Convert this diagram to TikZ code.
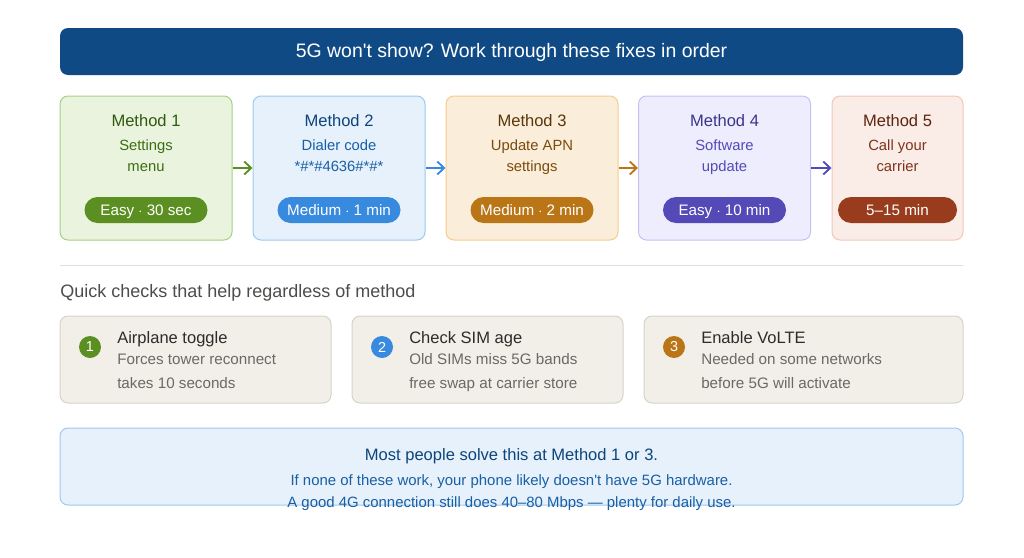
\documentclass[tikz,border=0pt]{standalone}
\usepackage{fontspec}
\setmainfont{Liberation Sans}
\usetikzlibrary{arrows.meta,positioning}
\definecolor{titlebg}{HTML}{0F4A85}
\definecolor{grnfill}{HTML}{EAF3DE}\definecolor{grnline}{HTML}{A8CF82}
\definecolor{grndark}{HTML}{2F5A0D}\definecolor{grntext}{HTML}{3B6D11}\definecolor{grnpill}{HTML}{5B8F21}
\definecolor{blufill}{HTML}{E6F1FB}\definecolor{bluline}{HTML}{9FC8EF}
\definecolor{bludark}{HTML}{0C447C}\definecolor{blutext}{HTML}{185FA5}\definecolor{blupill}{HTML}{378ADD}
\definecolor{orgfill}{HTML}{FAEEDA}\definecolor{orgline}{HTML}{F5CD88}
\definecolor{orgdark}{HTML}{5A3508}\definecolor{orgtext}{HTML}{7D4B0C}\definecolor{orgpill}{HTML}{BA7517}
\definecolor{purfill}{HTML}{EEEDFE}\definecolor{purline}{HTML}{C6C1F3}
\definecolor{purdark}{HTML}{3C3489}\definecolor{purtext}{HTML}{534AB7}\definecolor{purpill}{HTML}{534AB7}
\definecolor{redfill}{HTML}{FAECE7}\definecolor{redline}{HTML}{F3C7B7}
\definecolor{reddark}{HTML}{5E240F}\definecolor{redtext}{HTML}{80331A}\definecolor{redpill}{HTML}{993C1D}
\definecolor{chkfill}{HTML}{F1EFE8}\definecolor{chkline}{HTML}{D6D3CA}
\definecolor{chkdark}{HTML}{2C2C2A}\definecolor{chktext}{HTML}{6A6964}

\begin{document}
\begin{tikzpicture}[x=0.75pt, y=-0.75pt,
  method/.style={draw, line width=0.75pt, rounded corners=6pt, minimum height=108pt, inner sep=0pt},
  pill/.style={rounded corners=9.75pt, minimum height=19.5pt, minimum width=92.25pt, inner sep=0pt,
    fill=#1},
  pilltext/.style={anchor=base, inner sep=0pt, text=white, font=\fontsize{11.4}{13}\selectfont},
  mtitle/.style={anchor=base, font=\fontsize{12.4}{14}\selectfont, inner sep=0pt},
  msub/.style={anchor=base, font=\fontsize{11.1}{13}\selectfont, inner sep=0pt},
  arr/.style={-{Straight Barb[length=1.8mm, width=3.4mm]}, line width=1.4pt},
  check/.style={draw=chkline, fill=chkfill, line width=0.75pt, rounded corners=6pt,
    minimum height=65.25pt, inner sep=0pt},
  num/.style={circle, minimum size=16.5pt, inner sep=0pt, text=white, font=\fontsize{10.8}{13}\selectfont},
  ctitle/.style={font=\fontsize{12.4}{14}\selectfont, text=chkdark, inner sep=0pt, anchor=base west},
  csub/.style={font=\fontsize{11.4}{13}\selectfont, text=chktext, inner sep=0pt, anchor=base west}]

\useasboundingbox (0,0) rectangle (1024,557);

% header bar
\node[fill=titlebg, rounded corners=6pt, minimum width=677.25pt, minimum height=35.25pt, inner sep=0pt]
  (head) at (511.5,51.5) {};
\node[anchor=base, inner sep=0pt, text=white, font=\fontsize{14.6}{16}\selectfont] (headtxt) at (511.5,57.5)
  {5G won\textquotesingle t show? Work through these fixes in order};

% method cards
\node[method, draw=grnline, fill=grnfill, minimum width=129pt] (m1) at (146,168) {};
\node[method, draw=bluline, fill=blufill, minimum width=129pt] (m2) at (339,168) {};
\node[method, draw=orgline, fill=orgfill, minimum width=129pt] (m3) at (532,168) {};
\node[method, draw=purline, fill=purfill, minimum width=129pt] (m4) at (724.5,168) {};
\node[method, draw=redline, fill=redfill, minimum width=98.25pt] (m5) at (897.5,168) {};

\node[mtitle, text=grndark] (m1t) at (146,126.5) {Method 1};
\node[msub, text=grntext] (m1a) at (146,150.5) {Settings};
\node[msub, text=grntext] (m1b) at (146,171.5) {menu};
\node[pill=grnpill] (m1p) at (146,210) {};
\node[pilltext] (m1pt) at (146,215) {Easy $\cdot$ 30 sec};

\node[mtitle, text=bludark] (m2t) at (339,126.5) {Method 2};
\node[msub, text=blutext] (m2a) at (339,150.5) {Dialer code};
\node[msub, text=blutext] (m2b) at (339,171.5) {*\#*\#4636\#*\#*};
\node[pill=blupill] (m2p) at (339,210) {};
\node[pilltext] (m2pt) at (339,215) {Medium $\cdot$ 1 min};

\node[mtitle, text=orgdark] (m3t) at (532,126.5) {Method 3};
\node[msub, text=orgtext] (m3a) at (532,150.5) {Update APN};
\node[msub, text=orgtext] (m3b) at (532,171.5) {settings};
\node[pill=orgpill] (m3p) at (532,210) {};
\node[pilltext] (m3pt) at (532,215) {Medium $\cdot$ 2 min};

\node[mtitle, text=purdark] (m4t) at (724.5,126.5) {Method 4};
\node[msub, text=purtext] (m4a) at (724.5,150.5) {Software};
\node[msub, text=purtext] (m4b) at (724.5,171.5) {update};
\node[pill=purpill] (m4p) at (724.5,210) {};
\node[pilltext] (m4pt) at (724.5,215) {Easy $\cdot$ 10 min};

\node[mtitle, text=reddark] (m5t) at (897.5,126.5) {Method 5};
\node[msub, text=redtext] (m5a) at (897.5,150.5) {Call your};
\node[msub, text=redtext] (m5b) at (897.5,171.5) {carrier};
\node[pill=redpill, minimum width=89.25pt] (m5p) at (897.5,210) {};
\node[pilltext] (m5pt) at (897.5,215) {5--15 min};

\draw[arr, grnpill] (m1.east) -- (m2.west);
\draw[arr, blupill] (m2.east) -- (m3.west);
\draw[arr, orgpill] (m3.east) -- (m4.west);
\draw[arr, purpill] (m4.east) -- (m5.west);

% divider
\coordinate (divl) at (60,265);
\coordinate (divr) at (963,265);
\draw[gray!25, line width=0.75pt] (divl) -- (divr);

\node[anchor=base west, inner sep=0pt, text=chkdark!85, font=\fontsize{13.5}{15}\selectfont] (qtitle) at (60,297)
  {Quick checks that help regardless of method};

% quick checks
\node[check, minimum width=203.25pt] (c1) at (195.5,359.5) {};
\node[check, minimum width=203.25pt] (c2) at (487.5,359.5) {};
\node[check, minimum width=239.25pt] (c3) at (803.5,359.5) {};

\node[num, fill=grnpill] (c1n) at (90,347) {1};
\node[ctitle] (c1t) at (117,343) {Airplane toggle};
\node[csub] (c1a) at (117,364) {Forces tower reconnect};
\node[csub] (c1b) at (117,388) {takes 10 seconds};

\node[num, fill=blupill] (c2n) at (382,347) {2};
\node[ctitle] (c2t) at (409,343) {Check SIM age};
\node[csub] (c2a) at (409,364) {Old SIMs miss 5G bands};
\node[csub] (c2b) at (409,388) {free swap at carrier store};

\node[num, fill=orgpill] (c3n) at (674,347) {3};
\node[ctitle] (c3t) at (701,343) {Enable VoLTE};
\node[csub] (c3a) at (701,364) {Needed on some networks};
\node[csub] (c3b) at (701,388) {before 5G will activate};

% summary
\node[draw=bluline, fill=blufill, line width=0.75pt, rounded corners=6pt, minimum width=677.25pt,
  minimum height=57.75pt, inner sep=0pt] (note) at (511.5,466.5) {};
\node[anchor=base, inner sep=0pt, text=bludark, font=\fontsize{12.4}{14}\selectfont] (note1) at (511.5,460)
  {Most people solve this at Method 1 or 3.};
\node[anchor=base, inner sep=0pt, text=blutext, font=\fontsize{11.2}{13}\selectfont] (note2) at (511.5,485.5)
  {If none of these work, your phone likely doesn\textquotesingle t have 5G hardware.};
\node[anchor=base, inner sep=0pt, text=blutext, font=\fontsize{11.2}{13}\selectfont] (note3) at (511.5,507)
  {A good 4G connection still does 40--80 Mbps --- plenty for daily use.};
\end{tikzpicture}
\end{document}
